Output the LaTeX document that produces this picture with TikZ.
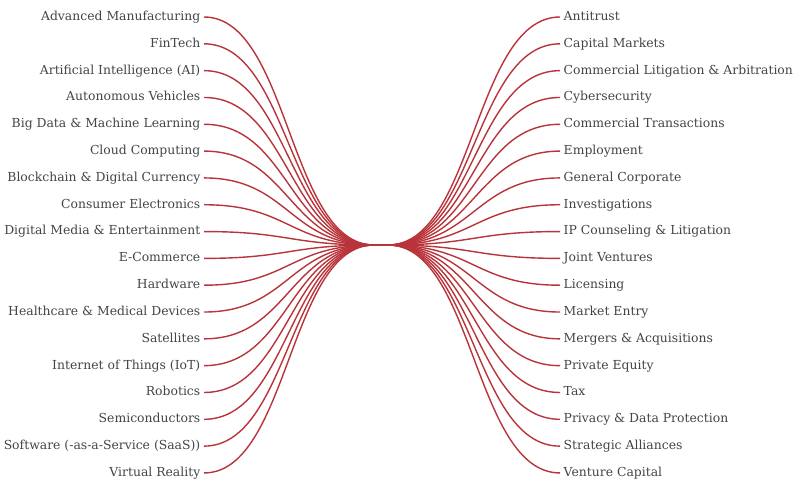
\documentclass[tikz,border=0pt]{standalone}
\usepackage{fontspec}
\setmainfont{DejaVu Serif}
\usetikzlibrary{calc}
\definecolor{linkred}{RGB}{184,52,58}
\definecolor{labelgrey}{RGB}{68,68,68}
\begin{document}
\begin{tikzpicture}[x=1pt,y=-1pt,
  lab/.style={text=labelgrey,font=\fontsize{12.4}{14}\selectfont,inner xsep=3.5pt,inner ysep=1pt,text height=9pt,text depth=2.2pt},
  link/.style={draw=linkred,line width=1.4pt}]
\useasboundingbox (0,0) rectangle (800,493);
\coordinate (cl) at (374,245);
\coordinate (cr) at (388,245);
\foreach \t [count=\i] in {Advanced Manufacturing,FinTech,Artificial Intelligence (AI),Autonomous Vehicles,Big Data \& Machine Learning,Cloud Computing,Blockchain \& Digital Currency,Consumer Electronics,Digital Media \& Entertainment,E-Commerce,Hardware,Healthcare \& Medical Devices,Satellites,Internet of Things (IoT),Robotics,Semiconductors,Software (-as-a-Service (SaaS)),Virtual Reality}{
  \node[lab,anchor=east] (L\i) at (204,{17+(\i-1)*26.82}) {\t};
  \draw[link] (L\i.east) .. controls ($(L\i.east)+(85,0)$) and ($(cl)+(-85,0)$) .. (cl);
}
\foreach \t [count=\i] in {Antitrust,Capital Markets,Commercial Litigation \& Arbitration,Cybersecurity,Commercial Transactions,Employment,General Corporate,Investigations,IP Counseling \& Litigation,Joint Ventures,Licensing,Market Entry,Mergers \& Acquisitions,Private Equity,Tax,Privacy \& Data Protection,Strategic Alliances,Venture Capital}{
  \node[lab,anchor=west] (R\i) at (560,{17+(\i-1)*26.82}) {\t};
  \draw[link] (cr) .. controls ($(cr)+(86,0)$) and ($(R\i.west)+(-86,0)$) .. (R\i.west);
}
\draw[link] (cl) -- (cr);
\end{tikzpicture}
\end{document}
